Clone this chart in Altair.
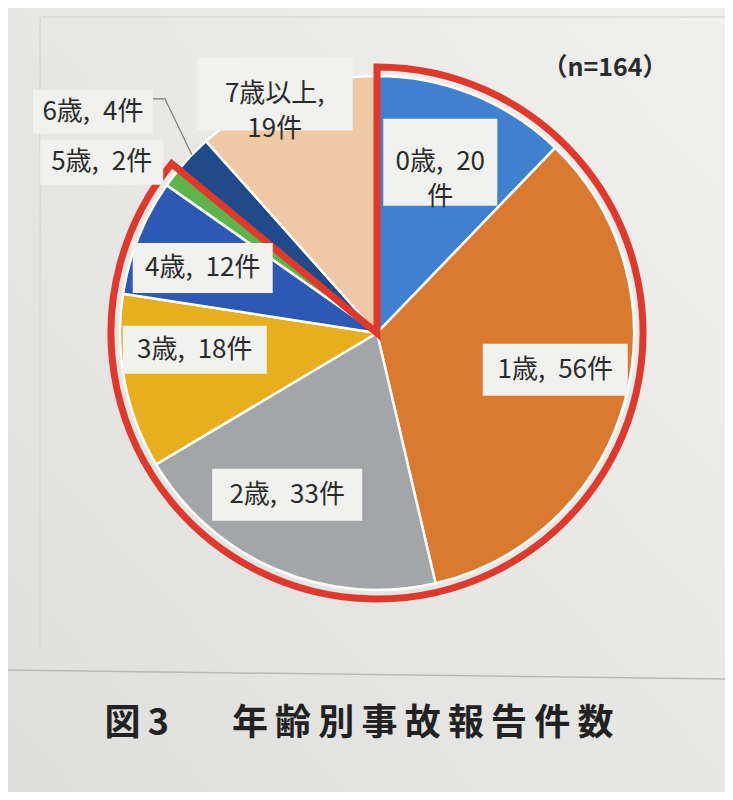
import altair as alt
import numpy as np
import pandas as pd

# ---------------- data ----------------
ages = ["0歳", "1歳", "2歳", "3歳", "4歳", "5歳", "6歳", "7歳以上"]
counts = [20, 56, 33, 18, 12, 2, 4, 19]
label_texts = ["0歳,\u200220\n件", "1歳,\u200256件", "2歳,\u200233件", "3歳,\u200218件",
               "4歳,\u200212件", "5歳,\u20022件", "6歳,\u20024件", "7歳以上,\n19件"]
highlight_last = "5歳"          # red outline: 0歳 .. 5歳
n_text = "（n=164）"
title_text = "図\u20093\u3000\u2002\u2005年\u2009齢\u2009別\u2009事\u2009故\u2009報\u2009告\u2009件\u2009数"

# ---------------- style / layout ----------------
colors = ["#3f80cf", "#db7a2f", "#a3a6a8", "#e7ae1d",
          "#2d58b6", "#5cb54a", "#1f4b8b", "#efc8a5"]
RED = "#e0392c"
TXT = "#2b2b2b"
BOXC = "#f1f1ef"
FONT = "Noto Sans CJK JP"

W, H = 717, 784
OFF = 8
CX, CY = 377 - OFF, 333 - OFF
R = 257
R_RED = 266
label_r = [182, 182, 185, 183, 186, 324, 360, 260]
label_da = [-1.6, -3.7, 6.0, 5.7, -1.5, -5.5, -6.0, -2.3]   # degrees nudge
box_w = [114, 145, 150, 144, 140, 123, 120, 156]
box_h = [87, 52, 52, 48, 50, 45, 44, 73]

# ---------------- tables ----------------
idx = list(range(len(ages)))
pie = pd.DataFrame({"age": ages, "count": counts, "idx": idx})

cnt = np.array(counts, dtype=float)
total = cnt.sum()
mid = (np.cumsum(cnt) - cnt / 2) / total * 2 * np.pi
ang = mid + np.radians(label_da)
lx = CX + np.array(label_r) * np.sin(ang)
ly = CY - np.array(label_r) * np.cos(ang)
lab = pd.DataFrame({
    "label": label_texts, "x": lx, "y": ly,
    "x0": lx - np.array(box_w) / 2, "x1": lx + np.array(box_w) / 2,
    "y0": ly - np.array(box_h) / 2, "y1": ly + np.array(box_h) / 2,
})

hl_n = int(sum(counts[: ages.index(highlight_last) + 1]))
red = pd.DataFrame({"part": ["hl", "rest"], "v": [hl_n, int(total) - hl_n], "idx": [0, 1]})

# leader line for 6歳
k = ages.index("6歳")
edge_x = CX + R * np.sin(mid[k])
edge_y = CY - R * np.cos(mid[k])
bx_r = lab.loc[k, "x1"]
by_t = lab.loc[k, "y0"] + 9
leader = pd.DataFrame({"x": [bx_r, bx_r + 12, edge_x], "y": [by_t, by_t, edge_y], "o": [0, 1, 2]})

one = pd.DataFrame({"a": [0]})

# ---------------- layers ----------------
bg = alt.Chart(one).mark_rect(
    color=alt.Gradient(gradient="linear", x1=1, y1=0, x2=0, y2=1,
                       stops=[alt.GradientStop(color="#f0f0ee", offset=0),
                              alt.GradientStop(color="#e7e7e5", offset=0.5),
                              alt.GradientStop(color="#dededc", offset=1)])
).encode(x=alt.value(-OFF), x2=alt.value(W + OFF), y=alt.value(-OFF), y2=alt.value(H + OFF))

frame_top = alt.Chart(one).mark_rule(color="#cfcfcd", strokeWidth=1).encode(
    x=alt.value(42 - OFF), x2=alt.value(W + OFF), y=alt.value(17 - OFF))
frame_left = alt.Chart(one).mark_rule(color="#d2d2d0", strokeWidth=1).encode(
    x=alt.value(40 - OFF), y=alt.value(17 - OFF), y2=alt.value(650 - OFF))
sep = alt.Chart(one).mark_rule(color="#b9b9b7", strokeWidth=1.5).encode(
    x=alt.value(-OFF), x2=alt.value(W + OFF), y=alt.value(670 - OFF), y2=alt.value(679 - OFF))

arcs = alt.Chart(pie).mark_arc(radius=R, stroke="white", strokeWidth=2.5).encode(
    theta=alt.Theta("count:Q", stack=True),
    color=alt.Color("age:N", scale=alt.Scale(domain=ages, range=colors), legend=None),
    order=alt.Order("idx:Q"),
    x=alt.value(CX), y=alt.value(CY),
)

outline = alt.Chart(red).mark_arc(radius=R_RED, stroke=RED, strokeWidth=7,
                                  fillOpacity=0, strokeJoin="miter").encode(
    theta=alt.Theta("v:Q", stack=True),
    order=alt.Order("idx:Q"),
    strokeOpacity=alt.condition("datum.part == 'hl'", alt.value(1), alt.value(0)),
    x=alt.value(CX), y=alt.value(CY),
)

lead = alt.Chart(leader).mark_line(color="#7a7a7a", strokeWidth=1.2).encode(
    x=alt.X("x:Q", scale=None, axis=None),
    y=alt.Y("y:Q", scale=None, axis=None),
    order="o:Q",
)

boxes = alt.Chart(lab).mark_rect(color=BOXC).encode(
    x=alt.X("x0:Q", scale=None, axis=None), x2="x1:Q",
    y=alt.Y("y0:Q", scale=None, axis=None), y2="y1:Q",
)

texts = alt.Chart(lab).mark_text(font=FONT, fontSize=26, color=TXT, lineBreak="\n",
                                 lineHeight=35, align="center", baseline="middle").encode(
    x=alt.X("x:Q", scale=None, axis=None),
    y=alt.Y("y:Q", scale=None, axis=None),
    text="label:N",
)

ntxt = alt.Chart(one).mark_text(font=FONT, fontSize=25, fontWeight="bold", color=TXT,
                                align="center", baseline="middle", text=n_text).encode(
    x=alt.value(605 - OFF), y=alt.value(68 - OFF))

title = alt.Chart(one).mark_text(font=FONT, fontSize=36, fontWeight="bold", color="#222222",
                                 align="center", baseline="middle", text=title_text).encode(
    x=alt.value(359 - OFF), y=alt.value(724 - OFF))

chart = alt.layer(bg, frame_top, frame_left, sep, arcs, outline, lead, boxes, texts, ntxt, title).properties(
    width=W, height=H, padding=0, autosize="none", background="#e6e6e4"
).configure_view(stroke=None)

chart.save("out.html", embed_options={"renderer": "svg", "actions": False})
